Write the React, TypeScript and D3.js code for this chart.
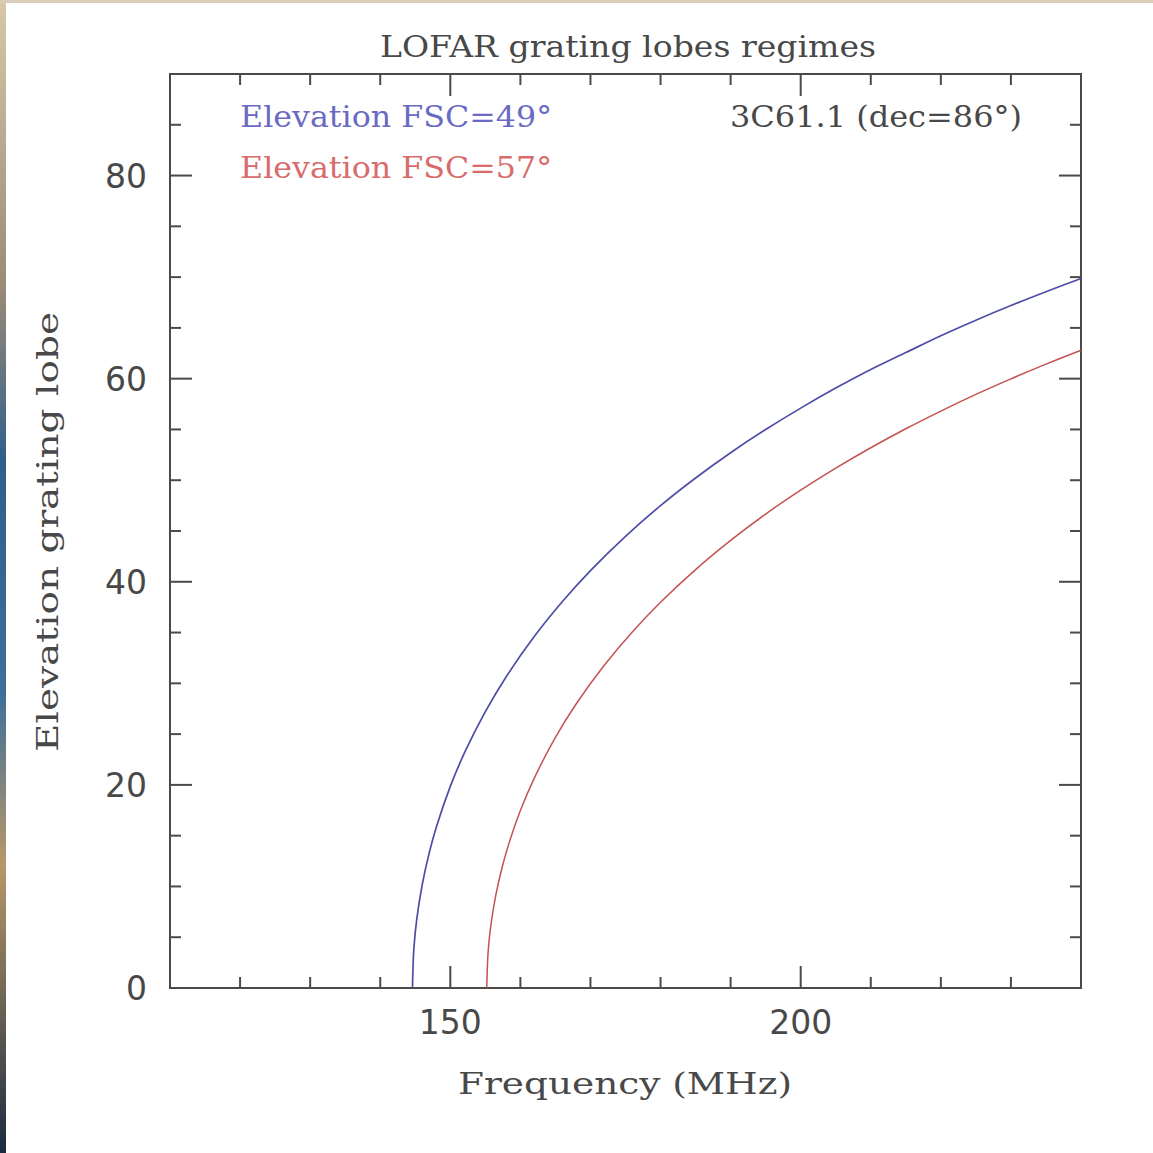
import React, { useRef, useEffect } from 'react';
import * as d3 from 'd3';

// curves (frequency in MHz, elevation in degrees)
const blueFreq = [144.6, 144.8, 145.2, 146, 147, 148, 150, 152, 155, 158, 162, 166, 170, 175, 180, 185, 190, 195, 200, 205, 210, 215, 220, 225, 230, 235, 240];
const blueElev = [0, 3.89, 6.7, 10.21, 13.33, 15.83, 19.85, 23.12, 27.21, 30.67, 34.63, 38.06, 41.1, 44.48, 47.5, 50.22, 52.71, 54.99, 57.1, 59.07, 60.9, 62.57, 64.23, 65.76, 67.2, 68.56, 69.86];
const redFreq = [155.2, 155.4, 155.8, 156.5, 157.5, 158.5, 160, 162, 165, 168, 172, 176, 180, 185, 190, 195, 200, 205, 210, 215, 220, 225, 230, 235, 240];
const redElev = [0, 3.61, 6.24, 9.17, 12.16, 14.53, 17.47, 20.69, 24.67, 28.01, 31.8, 35.08, 37.98, 41.2, 44.07, 46.67, 49.02, 51.19, 53.2, 55.07, 56.81, 58.45, 59.98, 61.43, 62.8];

const xDomain = [110, 240];
const yDomain = [0, 90];
const xLabels = [150, 200];
const yLabels = [0, 20, 40, 60, 80];

const W = 1153;
const H = 1153;
const box = { left: 170, right: 1081, top: 74, bottom: 988 };

const frame = '#4a4a4a';
const ink = '#484848';

const drawChart = (node) => {
	const svg = d3.select(node);
	svg.selectAll('*').remove();

	const x = d3.scaleLinear().domain(xDomain).range([box.left, box.right]);
	const y = d3.scaleLinear().domain(yDomain).range([box.bottom, box.top]);

	svg.append('rect').attr('width', W).attr('height', H).attr('fill', '#fff');

	// photo edges around the screenshot
	const grad = svg.append('defs').append('linearGradient')
		.attr('id', 'edge').attr('x1', 0).attr('y1', 0).attr('x2', 0).attr('y2', 1);
	[['0', '#d9c7a8'], ['0.25', '#9a8a78'], ['0.4', '#2f5f8a'], ['0.6', '#3d6f9a'], ['0.75', '#b89868'], ['1', '#1a2a40']]
		.forEach(([o, c]) => grad.append('stop').attr('offset', o).attr('stop-color', c));
	svg.append('rect').attr('x', 0).attr('y', 0).attr('width', 6).attr('height', H).attr('fill', 'url(#edge)');
	svg.append('rect').attr('x', 0).attr('y', 0).attr('width', W).attr('height', 3).attr('fill', '#d8cdb8');

	const xMinor = d3.range(120, 240, 10);
	const yMinor = d3.range(5, 90, 5);
	const g = svg.append('g').attr('stroke', frame).attr('stroke-width', 2);

	const tick = (vals, len, horiz) => {
		vals.forEach((v) => {
			if (horiz) {
				const px = x(v);
				g.append('line').attr('x1', px).attr('x2', px).attr('y1', box.bottom).attr('y2', box.bottom - len);
				g.append('line').attr('x1', px).attr('x2', px).attr('y1', box.top).attr('y2', box.top + len);
			} else {
				const py = y(v);
				g.append('line').attr('y1', py).attr('y2', py).attr('x1', box.left).attr('x2', box.left + len);
				g.append('line').attr('y1', py).attr('y2', py).attr('x1', box.right).attr('x2', box.right - len);
			}
		});
	};
	tick(xMinor.filter((v) => !xLabels.includes(v)), 11, true);
	tick(xLabels, 22, true);
	tick(yMinor.filter((v) => !yLabels.includes(v)), 11, false);
	tick(yLabels, 22, false);

	g.append('rect')
		.attr('x', box.left).attr('y', box.top)
		.attr('width', box.right - box.left).attr('height', box.bottom - box.top)
		.attr('fill', 'none');

	const line = d3.line().x((d) => x(d[0])).y((d) => y(d[1])).curve(d3.curveCatmullRom.alpha(0.5));
	svg.append('path').datum(d3.zip(blueFreq, blueElev))
		.attr('d', line).attr('fill', 'none').attr('stroke', '#4d4da8').attr('stroke-width', 1.7);
	svg.append('path').datum(d3.zip(redFreq, redElev))
		.attr('d', line).attr('fill', 'none').attr('stroke', '#c45252').attr('stroke-width', 1.5);

	const sans = 'DejaVu Sans, sans-serif';
	const serif = 'DejaVu Serif, serif';

	svg.append('g').selectAll('text').data(xLabels).join('text')
		.attr('x', (d) => x(d)).attr('y', 1034)
		.attr('text-anchor', 'middle').attr('font-family', sans).attr('font-size', 33)
		.attr('fill', ink).text((d) => d);
	svg.append('g').selectAll('text').data(yLabels).join('text')
		.attr('x', 147).attr('y', (d) => y(d) + 12)
		.attr('text-anchor', 'end').attr('font-family', sans).attr('font-size', 33)
		.attr('fill', ink).text((d) => d);

	const label = (txt, px, py, len, color) => svg.append('text')
		.attr('x', px).attr('y', py)
		.attr('font-family', serif).attr('font-size', 30)
		.attr('textLength', len).attr('lengthAdjust', 'spacingAndGlyphs')
		.attr('fill', color).text(txt);

	label('LOFAR grating lobes regimes', 380, 57, 496, ink);
	label('Frequency (MHz)', 458, 1094, 334, ink);
	label('Elevation FSC=49°', 240, 127, 312, '#6a6ac4');
	label('Elevation FSC=57°', 240, 178, 312, '#d86c6c');
	label('3C61.1 (dec=86°)', 730, 127, 292, ink);

	svg.append('text')
		.attr('transform', 'translate(58, 752) rotate(-90)')
		.attr('font-family', serif).attr('font-size', 30)
		.attr('textLength', 440).attr('lengthAdjust', 'spacingAndGlyphs')
		.attr('fill', ink).text('Elevation grating lobe');
};

const App = () => {
	const ref = useRef(null);

	useEffect(() => {
		drawChart(ref.current);
	}, []);

	return (
		<div style={{ position: 'absolute', left: 0, top: 0 }}>
			<svg ref={ref} width={W} height={H} style={{ display: 'block' }}/>
		</div>
	);
};

export default App;
